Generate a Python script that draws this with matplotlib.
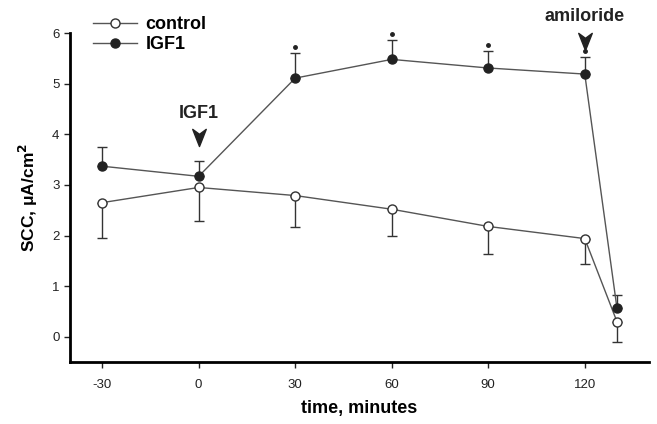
import matplotlib
matplotlib.use("Agg")
import matplotlib.pyplot as plt
from matplotlib.path import Path
import numpy as np

plt.rcParams['font.family'] = ['Liberation Sans', 'DejaVu Sans']
plt.rcParams['axes.unicode_minus'] = False

time = [-30, 0, 30, 60, 90, 120, 130]
control = [2.65, 2.95, 2.79, 2.52, 2.18, 1.94, 0.30]
control_err = [0.69, 0.67, 0.63, 0.52, 0.54, 0.51, 0.40]
igf1 = [3.37, 3.17, 5.11, 5.48, 5.31, 5.19, 0.57]
igf1_err = [0.37, 0.31, 0.49, 0.38, 0.33, 0.33, 0.26]
signif = [False, False, True, True, True, True, False]
xticks = [-30, 0, 30, 60, 90, 120]
yticks = [0, 1, 2, 3, 4, 5, 6]
events = [(0, 'IGF1', 3.95), (120, 'amiloride', 5.85)]

fig = plt.figure(figsize=(6.57, 4.24), dpi=100)
ax = fig.add_axes([0.1065, 0.146, 0.8815, 0.776])

lc = '#555555'
ax.errorbar(time, control, yerr=[control_err, [0]*len(time)], fmt='none',
            ecolor='#333333', elinewidth=1.0, capsize=3.5, capthick=1.0)
ax.errorbar(time, igf1, yerr=[[0]*len(time), igf1_err], fmt='none',
            ecolor='#333333', elinewidth=1.0, capsize=3.5, capthick=1.0)
ax.plot(time, control, '-', color=lc, lw=1.0, marker='o', ms=6.5,
        mfc='white', mec='#333333', mew=1.0, label='control', zorder=3)
ax.plot(time, igf1, '-', color=lc, lw=1.0, marker='o', ms=6.5,
        mfc='#222222', mec='#222222', label='IGF1', zorder=3)

for t, v, e, s in zip(time, igf1, igf1_err, signif):
    if s:
        ax.plot(t, v + e + 0.12, marker='o', ms=2.5, color='#222222', ls='none',
                clip_on=False)

# notched arrowhead marker
arrow = Path([(0, -1), (-0.75, 0.9), (0, 0.35), (0.75, 0.9), (0, -1)],
             [Path.MOVETO, Path.LINETO, Path.LINETO, Path.LINETO, Path.CLOSEPOLY])
for t, label, yv in events:
    ax.plot(t, yv, marker=arrow, ms=13, color='#222222', ls='none', clip_on=False)
    ax.text(t, yv + 0.3, label, ha='center', va='bottom', fontsize=13,
            fontweight='bold', color='#222222')

ax.set_xlim(-40, 140)
ax.set_ylim(-0.5, 6)
ax.set_xticks(xticks)
ax.set_yticks(yticks)
ax.spines['top'].set_visible(False)
ax.spines['right'].set_visible(False)
ax.spines['left'].set_bounds(-0.5, 6)
ax.spines['left'].set_linewidth(2)
ax.spines['bottom'].set_linewidth(2)
ax.tick_params(direction='out', length=4, width=1, labelsize=9.5, colors='#222222')
ax.tick_params(axis='x', pad=8)

ax.set_xlabel('time, minutes', fontsize=13, fontweight='bold', labelpad=7)
ax.set_ylabel('SCC, μA/cm$^\\mathbf{2}$', fontsize=12.5, fontweight='bold', labelpad=9)

leg = ax.legend(loc='upper left', bbox_to_anchor=(0.012, 1.1), frameon=False,
                prop={'weight': 'bold', 'size': 13}, handlelength=2.4,
                handletextpad=0.5, labelspacing=0.15)

fig.savefig('out.png', dpi=100)
